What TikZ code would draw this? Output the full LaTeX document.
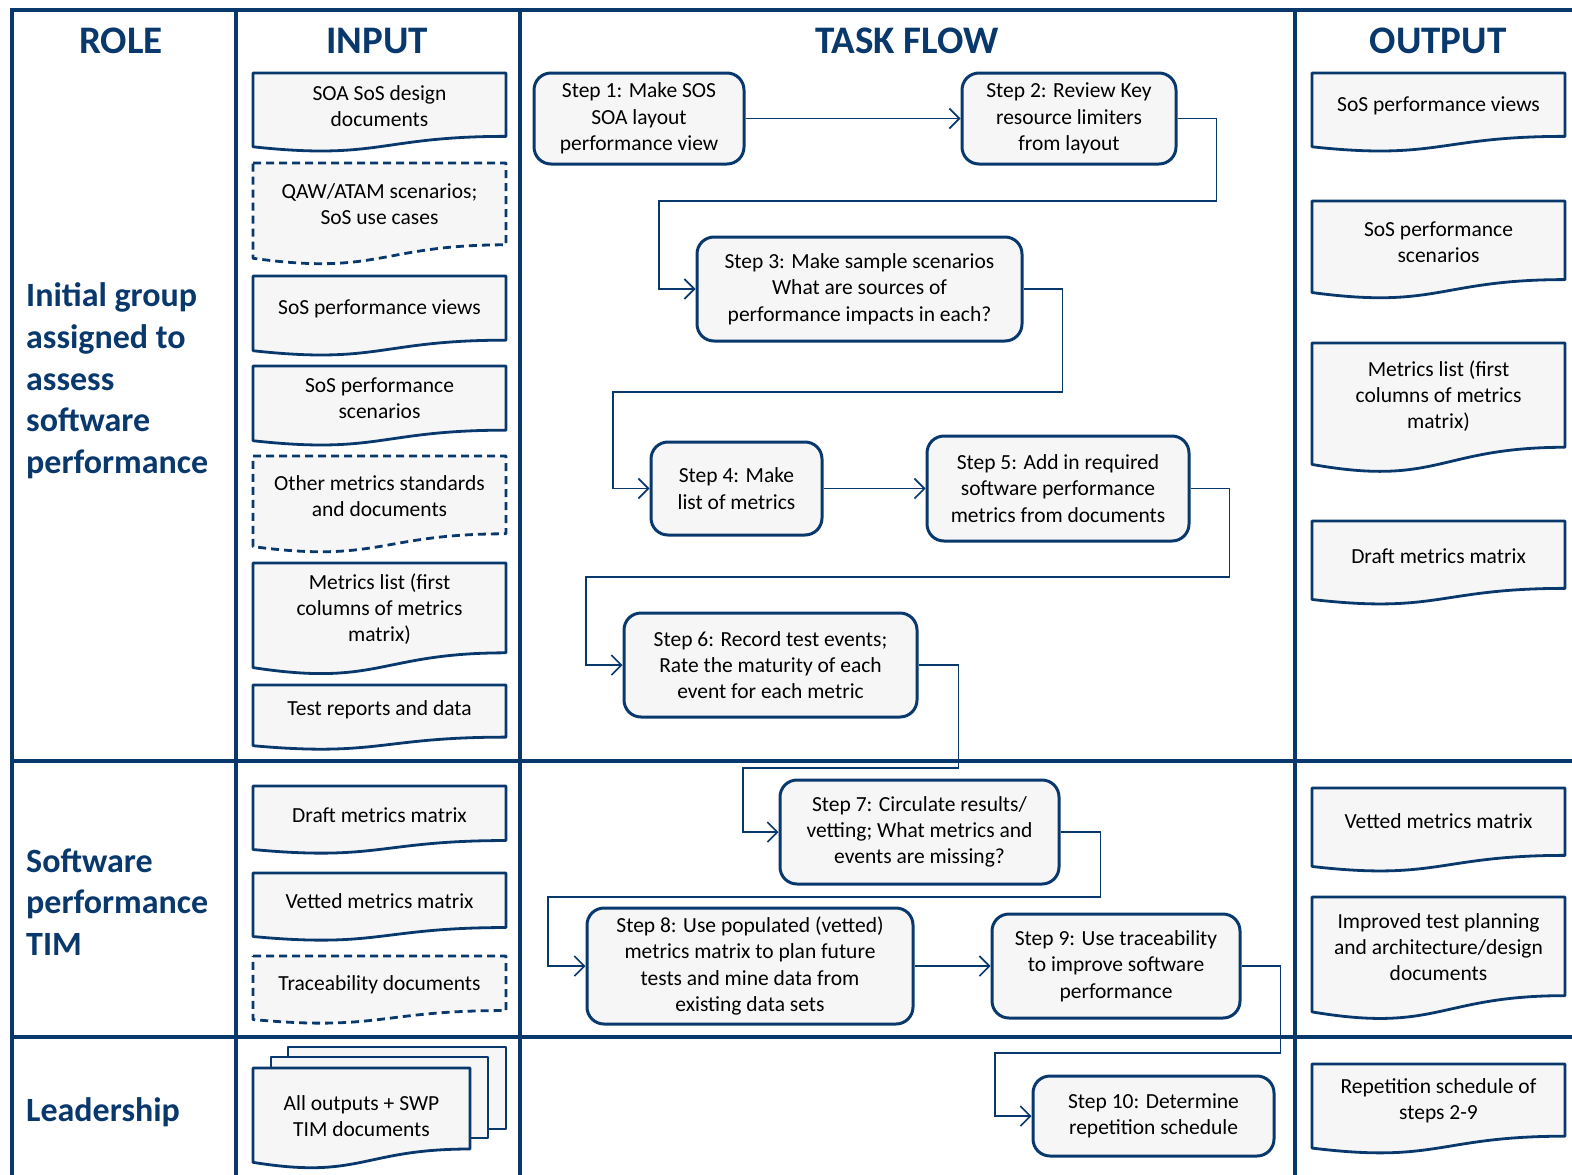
\documentclass[tikz,border=0pt]{standalone}
\usepackage{fontspec}
\setmainfont{Carlito}
\usetikzlibrary{arrows.meta}
\definecolor{navy}{RGB}{8,56,108}
\definecolor{boxfill}{RGB}{246,246,246}

% Flowchart "document" sheet: #2 name, #3 left, #4 top, #5 right, #6 height, #7 text centre y, #8 text
\newcommand{\docbox}[8][]{%
  \path[docpath,#1] (#3,#4) -- (#5,#4) -- (#5,{#4+0.802*#6})
    .. controls ({(#3+#5)/2},{#4+0.802*#6}) and ({(#3+#5)/2},{#4+1.1075*#6}) ..
    (#3,{#4+0.934*#6}) -- cycle;
  \node[doctext] (#2) at ({(#3+#5)/2},#7) {#8};
}

\begin{document}
\begin{tikzpicture}[x=1pt,y=-1pt,
  grid/.style={draw=navy,line width=4pt},
  header/.style={font=\fontsize{39}{42}\selectfont\bfseries,text=navy,inner sep=0},
  rolelabel/.style={font=\fontsize{34}{41.7}\selectfont\bfseries,text=navy,align=left,anchor=west,inner sep=0},
  docpath/.style={draw=navy,line width=2.8pt,fill=boxfill,line join=round},
  docdash/.style={dash pattern=on 8pt off 5pt},
  doctext/.style={font=\fontsize{21.5}{26}\selectfont,align=center,inner sep=0},
  stepbox/.style={draw=navy,line width=3pt,fill=boxfill,rounded corners=17pt,
    font=\fontsize{21.5}{26.3}\selectfont,align=center,inner sep=0},
  flow/.style={draw=navy,line width=1.6pt,-{Straight Barb[length=10pt,width=20pt]}},
]
\useasboundingbox (0,0) rectangle (1572,1175);

% swimlane grid
\draw[grid] (10,10) -- (1572,10);
\draw[grid] (12,10) -- (12,1175);
\draw[grid] (236,10) -- (236,1175);
\draw[grid] (520,10) -- (520,1175);
\draw[grid] (1295,10) -- (1295,1175);
\draw[grid] (12,761) -- (1572,761);
\draw[grid] (12,1037) -- (1572,1037);

% column headers
\node[header] (hrole) at (121,41) {ROLE};
\node[header] (hinput) at (377,41) {INPUT};
\node[header] (hflow) at (907,41) {TASK FLOW};
\node[header] (houtput) at (1438,41) {OUTPUT};

% roles
\node[rolelabel] (role1) at (26,381) {Initial group\\assigned to\\assess\\software\\performance};
\node[rolelabel] (role2) at (26,902) {Software\\performance\\TIM};
\node[rolelabel] (role3) at (26,1112) {Leadership};

% inputs
\docbox{in1}{253}{73}{506}{79}{106}{SOA SoS design\\documents}
\docbox[docdash]{in2}{253}{163}{506}{102}{204}{QAW/ATAM scenarios;\\SoS use cases}
\docbox{in3}{253}{276}{506}{80}{309}{SoS performance views}
\docbox{in4}{253}{366}{506}{80}{398}{SoS performance\\scenarios}
\docbox[docdash]{in5}{253}{456}{506}{97}{496}{Other metrics standards\\and documents}
\docbox{in6}{253}{563}{506}{112}{609}{Metrics list (first\\columns of metrics\\matrix)}
\docbox{in7}{253}{685}{506}{65}{710}{Test reports and data}
\docbox{in8}{253}{786}{506}{68}{815}{Draft metrics matrix}
\docbox{in9}{253}{873}{506}{68}{901}{Vetted metrics matrix}
\docbox[docdash]{in10}{253}{956}{506}{68}{985}{Traceability documents}
% stacked documents
\path[docpath] (288,1047) rectangle (506,1129);
\path[docpath] (271,1057) rectangle (488,1138);
\docbox{in11}{253}{1068}{470}{101}{1116}{All outputs + SWP\\TIM documents}

% outputs
\docbox{out1}{1312}{73}{1565}{79}{106}{SoS performance views}
\docbox{out2}{1312}{201}{1565}{98}{242}{SoS performance\\scenarios}
\docbox{out3}{1312}{343}{1565}{130}{396}{Metrics list (first\\columns of metrics\\matrix)}
\docbox{out4}{1312}{521}{1565}{84}{556}{Draft metrics matrix}
\docbox{out5}{1312}{788}{1565}{84}{821}{Vetted metrics matrix}
\docbox{out6}{1312}{897}{1565}{123}{947}{Improved test planning\\and architecture/design\\documents}
\docbox{out7}{1312}{1064}{1565}{90}{1101}{Repetition schedule of\\steps 2-9}

% task flow steps
\node[stepbox,minimum width=210pt,minimum height=91pt] (s1) at (639,118.5) {Step 1: Make SOS\\SOA layout\\performance view};
\node[stepbox,minimum width=214pt,minimum height=91pt] (s2) at (1069,118.5) {Step 2: Review Key\\resource limiters\\from layout};
\node[stepbox,minimum width=325pt,minimum height=104pt] (s3) at (859.5,289) {Step 3: Make sample scenarios\\What are sources of\\performance impacts in each?};
\node[stepbox,minimum width=171pt,minimum height=93pt] (s4) at (736.5,488.5) {Step 4: Make\\list of metrics};
\node[stepbox,minimum width=262pt,minimum height=105pt] (s5) at (1058,488.5) {Step 5: Add in required\\software performance\\metrics from documents};
\node[stepbox,minimum width=293pt,minimum height=104pt] (s6) at (770.5,665) {Step 6: Record test events;\\Rate the maturity of each\\event for each metric};
\node[stepbox,minimum width=279pt,minimum height=104pt] (s7) at (919.5,832) {Step 7: Circulate results/\\vetting; What metrics and\\events are missing?};
\node[stepbox,minimum width=326pt,minimum height=116pt] (s8) at (750,966) {Step 8: Use populated (vetted)\\metrics matrix to plan future\\tests and mine data from\\existing data sets};
\node[stepbox,minimum width=248pt,minimum height=104pt] (s9) at (1116,966) {Step 9: Use traceability\\to improve software\\performance};
\node[stepbox,minimum width=241pt,minimum height=80pt] (s10) at (1153.5,1116) {Step 10: Determine\\repetition schedule};

% connectors
\draw[flow] (s1.east) -- (s2.west);
\draw[flow] (s2.east) -- ++(39,0) |- (659,201) |- (s3.west);
\draw[flow] (s3.east) -- ++(39,0) |- (613,392) |- (s4.west);
\draw[flow] (s4.east) -- (s5.west);
\draw[flow] (s5.east) -- ++(39,0) |- (586,577) |- (s6.west);
\draw[flow] (s6.east) -- ++(40,0) |- (743,768) |- (s7.west);
\draw[flow] (s7.east) -- ++(40,0) |- (548,897) |- (s8.west);
\draw[flow] (s8.east) -- (s9.west);
\draw[flow] (s9.east) -- ++(39,0) |- (995,1053) |- (s10.west);
\end{tikzpicture}
\end{document}
